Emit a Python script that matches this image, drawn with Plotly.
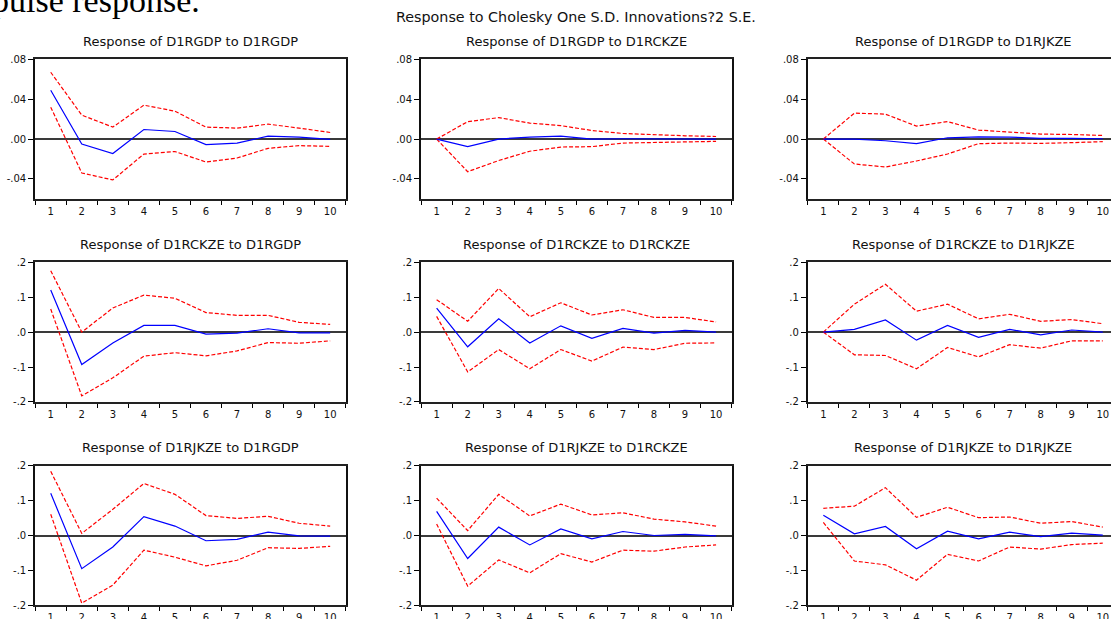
import plotly.graph_objects as go

# ---------------- data ----------------
periods = [1, 2, 3, 4, 5, 6, 7, 8, 9, 10]
variables = ["D1RGDP", "D1RCKZE", "D1RJKZE"]

# Row 1: Response of D1RGDP
gdp_to_gdp = [0.049, -0.005, -0.0145, 0.0096, 0.0076, -0.0056, -0.004, 0.003, 0.002, -0.0003]
gdp_to_gdp_hi = [0.067, 0.024, 0.012, 0.034, 0.028, 0.012, 0.011, 0.015, 0.011, 0.0066]
gdp_to_gdp_lo = [0.032, -0.034, -0.041, -0.015, -0.0125, -0.023, -0.019, -0.0093, -0.0066, -0.0073]

gdp_to_ckz = [0.0, -0.0076, 0.0, 0.002, 0.003, 0.0, 0.0003, 0.0, 0.0, 0.0]
gdp_to_ckz_hi = [0.0, 0.0175, 0.0215, 0.016, 0.0135, 0.0086, 0.0056, 0.0043, 0.0033, 0.0026]
gdp_to_ckz_lo = [0.0, -0.0327, -0.0215, -0.0122, -0.008, -0.0076, -0.004, -0.0033, -0.003, -0.0023]

gdp_to_jkz = [0.0, 0.0, -0.0017, -0.0046, 0.0013, 0.0023, 0.002, 0.0007, 0.0007, 0.0003]
gdp_to_jkz_hi = [0.0, 0.026, 0.025, 0.013, 0.0175, 0.009, 0.007, 0.005, 0.0046, 0.0036]
gdp_to_jkz_lo = [0.0, -0.025, -0.028, -0.022, -0.015, -0.0046, -0.004, -0.0043, -0.0036, -0.0026]

# Row 2: Response of D1RCKZE
ckz_to_gdp = [0.1206, -0.093, -0.031, 0.019, 0.019, -0.006, -0.003, 0.0096, -0.002, -0.002]
ckz_to_gdp_hi = [0.176, 0.0, 0.069, 0.106, 0.097, 0.056, 0.048, 0.048, 0.028, 0.022]
ckz_to_gdp_lo = [0.066, -0.183, -0.131, -0.069, -0.059, -0.068, -0.054, -0.03, -0.032, -0.025]

ckz_to_ckz = [0.069, -0.042, 0.038, -0.031, 0.018, -0.018, 0.0105, -0.003, 0.005, 0.0]
ckz_to_ckz_hi = [0.093, 0.031, 0.125, 0.044, 0.084, 0.049, 0.064, 0.042, 0.042, 0.029]
ckz_to_ckz_lo = [0.045, -0.114, -0.05, -0.105, -0.05, -0.083, -0.043, -0.05, -0.032, -0.031]

ckz_to_jkz = [0.0, 0.008, 0.035, -0.023, 0.019, -0.015, 0.008, -0.008, 0.006, 0.0]
ckz_to_jkz_hi = [0.0, 0.080, 0.137, 0.060, 0.080, 0.038, 0.051, 0.031, 0.036, 0.024]
ckz_to_jkz_lo = [0.0, -0.065, -0.067, -0.105, -0.044, -0.071, -0.036, -0.046, -0.025, -0.025]

# Row 3: Response of D1RJKZE
jkz_to_gdp = [0.121, -0.095, -0.033, 0.054, 0.027, -0.015, -0.011, 0.0096, -0.001, -0.002]
jkz_to_gdp_hi = [0.184, 0.006, 0.075, 0.149, 0.118, 0.057, 0.049, 0.055, 0.035, 0.027]
jkz_to_gdp_lo = [0.061, -0.194, -0.142, -0.042, -0.062, -0.087, -0.071, -0.035, -0.037, -0.031]

jkz_to_ckz = [0.069, -0.066, 0.024, -0.027, 0.019, -0.0096, 0.0115, 0.0, 0.003, -0.001]
jkz_to_ckz_hi = [0.107, 0.014, 0.118, 0.056, 0.090, 0.059, 0.065, 0.047, 0.039, 0.027]
jkz_to_ckz_lo = [0.033, -0.145, -0.070, -0.107, -0.052, -0.076, -0.042, -0.045, -0.033, -0.027]

jkz_to_jkz = [0.058, 0.005, 0.026, -0.038, 0.0125, -0.0096, 0.0096, -0.003, 0.0067, 0.001]
jkz_to_jkz_hi = [0.078, 0.084, 0.137, 0.052, 0.081, 0.051, 0.053, 0.035, 0.040, 0.024]
jkz_to_jkz_lo = [0.0375, -0.073, -0.084, -0.128, -0.054, -0.073, -0.033, -0.039, -0.026, -0.022]

responses = [
    [gdp_to_gdp, gdp_to_ckz, gdp_to_jkz],
    [ckz_to_gdp, ckz_to_ckz, ckz_to_jkz],
    [jkz_to_gdp, jkz_to_ckz, jkz_to_jkz],
]
uppers = [
    [gdp_to_gdp_hi, gdp_to_ckz_hi, gdp_to_jkz_hi],
    [ckz_to_gdp_hi, ckz_to_ckz_hi, ckz_to_jkz_hi],
    [jkz_to_gdp_hi, jkz_to_ckz_hi, jkz_to_jkz_hi],
]
lowers = [
    [gdp_to_gdp_lo, gdp_to_ckz_lo, gdp_to_jkz_lo],
    [ckz_to_gdp_lo, ckz_to_ckz_lo, ckz_to_jkz_lo],
    [jkz_to_gdp_lo, jkz_to_ckz_lo, jkz_to_jkz_lo],
]

row1_ticks = [-0.04, 0.0, 0.04, 0.08]
row1_labels = ["-.04", ".00", ".04", ".08"]
row23_ticks = [-0.2, -0.1, 0.0, 0.1, 0.2]
row23_labels = ["-.2", "-.1", ".0", ".1", ".2"]
x_labels = [str(p) for p in periods]

main_title = "Response to Cholesky One S.D. Innovations?2 S.E."
page_text = "pulse response."

# ---------------- layout geometry (pixels) ----------------
W, H = 1111, 619
col_left = [35.2, 421.1, 807.8]
col_w = 310.5
unit_px = col_w / 10.0
row_top = [59.3, 262.3, 465.7]
row_h = 139.6

FONT = "DejaVu Sans"

fig = go.Figure()
layout = dict(
    width=W, height=H, autosize=False,
    margin=dict(l=0, r=0, t=0, b=0, pad=0),
    paper_bgcolor="white", plot_bgcolor="white",
    showlegend=False,
    font=dict(family=FONT, size=10, color="black"),
)
annotations = []

idx = 0
for r in range(3):
    for c in range(3):
        idx += 1
        xa = "x" if idx == 1 else f"x{idx}"
        ya = "y" if idx == 1 else f"y{idx}"
        left = col_left[c]
        right = left + col_w
        x_hi = 10.5
        if right > W:
            right = W
            x_hi = 0.5 + (W - left) / unit_px
        top = row_top[r]
        bot = top + row_h
        # traces
        fig.add_trace(go.Scatter(x=periods, y=uppers[r][c], xaxis=xa, yaxis=ya, mode="lines",
                                 line=dict(color="#FF0000", width=1.2, dash="4px,2px")))
        fig.add_trace(go.Scatter(x=periods, y=lowers[r][c], xaxis=xa, yaxis=ya, mode="lines",
                                 line=dict(color="#FF0000", width=1.2, dash="4px,2px")))
        fig.add_trace(go.Scatter(x=periods, y=responses[r][c], xaxis=xa, yaxis=ya, mode="lines",
                                 line=dict(color="#0000FF", width=1.2)))
        xkey = "xaxis" if idx == 1 else f"xaxis{idx}"
        ykey = "yaxis" if idx == 1 else f"yaxis{idx}"
        layout[xkey] = dict(
            domain=[left / W, right / W], anchor=ya, range=[0.5, x_hi],
            tickmode="array", tickvals=periods, ticktext=x_labels, ticks="",
            ticklabelstandoff=2,
            tickfont=dict(family=FONT, size=10, color="#111"),
            minor=dict(tickmode="array", tickvals=[p - 0.5 for p in periods] + [10.5],
                       ticks="outside", ticklen=4, tickwidth=1, tickcolor="black"),
            showgrid=False, zeroline=False,
            showline=True, mirror=True, linecolor="#222", linewidth=1.5,
            fixedrange=True, automargin=False,
        )
        if r == 0:
            yr, tv, tt = [-0.06, 0.08], row1_ticks, row1_labels
        else:
            yr, tv, tt = [-0.2, 0.2], row23_ticks, row23_labels
        layout[ykey] = dict(
            domain=[1 - bot / H, 1 - top / H], anchor=xa, range=yr,
            tickmode="array", tickvals=tv, ticktext=tt,
            ticks="outside", ticklen=5, tickwidth=1, tickcolor="black",
            tickfont=dict(family=FONT, size=10, color="#111"),
            showgrid=False,
            zeroline=True, zerolinecolor="#3a3a3a", zerolinewidth=1.5,
            showline=True, mirror=(c != 2 or right < W), linecolor="#111", linewidth=2,
            fixedrange=True, automargin=False,
        )
        resp_name = variables[r]
        shock_name = variables[c]
        annotations.append(dict(
            text=f"Response of {resp_name} to {shock_name}",
            xref="paper", yref="paper",
            x=(left + col_w / 2) / W, y=1 - (top - 18) / H,
            xanchor="center", yanchor="middle", showarrow=False,
            font=dict(family=FONT, size=13, color="#111"),
        ))

annotations.append(dict(
    text=main_title, xref="paper", yref="paper",
    x=576 / W, y=1 - 17 / H, xanchor="center", yanchor="middle", showarrow=False,
    font=dict(family=FONT, size=14.3, color="#111"),
))
annotations.append(dict(
    text=page_text, xref="paper", yref="paper",
    x=-10.5 / W, y=1.0, xanchor="left", yanchor="middle", showarrow=False,
    font=dict(family="Liberation Serif", size=34, color="black"),
))
layout["annotations"] = annotations
fig.update_layout(**layout)

fig.write_html(
    "out.html",
    config={"displayModeBar": False},
    post_script="document.body.style.margin='0';document.body.style.overflow='hidden';",
)
